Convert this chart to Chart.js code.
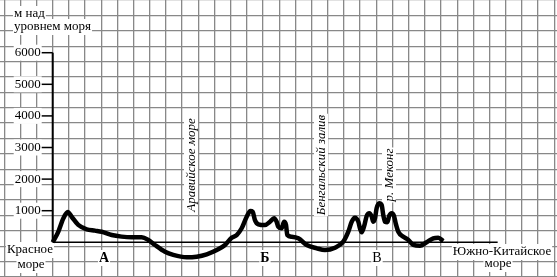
<!DOCTYPE html>
<html>
<head>
<meta charset="utf-8">
<script src="https://cdn.jsdelivr.net/npm/chart.js@4.4.0/dist/chart.umd.min.js"></script>
<style>
  html, body { margin: 0; padding: 0; background: #fff; }
  #profile { display: block; }
</style>
</head>
<body>
<canvas id="profile" width="557" height="277"></canvas>
<script>
// profile along the section, x in grid cells from the height axis, height in metres
var distance = [0, 0.35, 0.66, 0.93, 1.17, 1.58, 2.1, 2.61, 3.03, 3.65, 4.26, 4.88, 5.5, 5.91, 6.32,
  6.94, 7.45, 8.28, 8.9, 9.52, 10.14, 10.65, 11.06, 11.37, 11.68, 11.99, 12.22, 12.36, 12.5, 12.71,
  13.12, 13.43, 13.68, 13.84, 13.94, 14.15, 14.3, 14.42, 14.5, 14.77, 15.18, 15.7, 16.32, 16.83,
  17.45, 17.96, 18.27, 18.48, 18.68, 18.89, 18.99, 19.1, 19.24, 19.41, 19.57, 19.72, 19.81, 19.92,
  20.02, 20.18, 20.33, 20.43, 20.54, 20.68, 20.8, 20.95, 21.09, 21.2, 21.36, 21.67, 21.98, 22.29,
  22.7, 23.11, 23.52, 23.83, 24.14];
var height = [0, 340, 760, 960, 810, 550, 410, 370, 335, 230, 180, 160, 160, 75, -85,
  -300, -400, -475, -455, -380, -245, -85, 145, 230, 445, 810, 990, 965, 705, 570,
  545, 650, 760, 650, 495, 445, 650, 545, 230, 175, 125, -85, -190, -245,
  -170, 20, 335, 650, 780, 650, 445, 315, 495, 840, 920, 810, 650, 760,
  1075, 1235, 1180, 865, 650, 635, 840, 920, 840, 600, 335, 175, 75, -85,
  -110, 0, 125, 145, 40];

var seaLevelEnd = 27.5;
var axisTop = 6000;
var yTicks = [1000, 2000, 3000, 4000, 5000, 6000];
var axisTitle = ["м над", "уровнем моря"];
var startLabel = ["Красное", "море"];
var endLabel = ["Южно-Китайское", "море"];
var pointLetters = ["А", "Б", "В"];
var waterNames = ["Аравийское море", "Бенгальский залив", "р. Меконг"];

var profilePoints = [];
for (var i = 0; i < distance.length; i++) {
  profilePoints.push({x: distance[i], y: height[i]});
}

function boxText(ctx, text, x, y, align) {
  var w = ctx.measureText(text).width;
  var left = align == "center" ? x - w / 2 : (align == "right" ? x - w : x);
  ctx.fillStyle = "#fff";
  ctx.fillRect(left - 1, y - 8, w + 2, 16);
  ctx.fillStyle = "#000";
  ctx.textAlign = align;
  ctx.textBaseline = "middle";
  ctx.fillText(text, x, y);
}

function rotText(ctx, text, cx, cy) {
  ctx.save();
  ctx.translate(cx, cy);
  ctx.rotate(-Math.PI / 2);
  var w = ctx.measureText(text).width;
  ctx.fillStyle = "#fff";
  ctx.fillRect(-w / 2 - 1, -7, w + 2, 14);
  ctx.fillStyle = "#000";
  ctx.textAlign = "center";
  ctx.textBaseline = "middle";
  ctx.fillText(text, 0, 1);
  ctx.restore();
}

var labelsPlugin = {
  id: "labels",
  beforeDatasetsDraw: function(chart) {
    var ctx = chart.ctx;
    var xs = chart.scales.x, ys = chart.scales.y;
    var ax = xs.getPixelForValue(0);
    ctx.save();
    ctx.font = "13px 'Liberation Serif'";
    // tick labels and tick marks
    yTicks.forEach(function(v) {
      var py = ys.getPixelForValue(v);
      boxText(ctx, String(v), ax - 12, py, "right");
      ctx.strokeStyle = "#000";
      ctx.lineWidth = 1.5;
      ctx.beginPath();
      ctx.moveTo(ax - 11, py);
      ctx.lineTo(ax, py);
      ctx.stroke();
    });
    ctx.textBaseline = "alphabetic";
    boxText(ctx, axisTitle[0], 14, 14, "left");
    boxText(ctx, axisTitle[1], 14, 27, "left");
    boxText(ctx, startLabel[0], 30, 250, "center");
    boxText(ctx, startLabel[1], 31, 265, "center");
    boxText(ctx, endLabel[0], 502, 252, "center");
    boxText(ctx, endLabel[1], 498, 264, "center");

    ctx.font = "bold 14px 'Liberation Serif'";
    boxText(ctx, pointLetters[0], 104, 258, "center");
    boxText(ctx, pointLetters[1], 265, 258, "center");
    ctx.font = "14px 'Liberation Serif'";
    boxText(ctx, pointLetters[2], 377, 258, "center");

    ctx.font = "italic 13px 'Liberation Serif'";
    rotText(ctx, waterNames[0], 191, 165);
    rotText(ctx, waterNames[1], 321, 165);
    rotText(ctx, waterNames[2], 389, 175);
    ctx.restore();
  }
};

var ctx = document.getElementById("profile");

new Chart(ctx, {
  type: "line",
  data: {
    datasets: [
      {
        data: profilePoints,
        borderColor: "#000",
        borderWidth: 4.5,
        pointRadius: 0,
        cubicInterpolationMode: "monotone",
        fill: false
      },
      {
        data: [{x: 0, y: 0}, {x: seaLevelEnd, y: 0}],
        borderColor: "#000",
        borderWidth: 1.5,
        pointRadius: 0
      },
      {
        data: [{x: 0, y: 0}, {x: 0, y: axisTop}],
        borderColor: "#000",
        borderWidth: 2,
        pointRadius: 0
      }
    ]
  },
  options: {
    responsive: false,
    animation: false,
    devicePixelRatio: 1,
    layout: {padding: 0},
    plugins: {legend: {display: false}, tooltip: {enabled: false}},
    scales: {
      x: {
        type: "linear",
        min: -3.257,
        max: 31.168,
        border: {display: false},
        grid: {color: "#888", lineWidth: 1.3, drawTicks: false},
        ticks: {display: false, stepSize: 1, includeBounds: false}
      },
      y: {
        type: "linear",
        min: -1098,
        max: 7668,
        border: {display: false},
        grid: {color: "#888", lineWidth: 1.3, drawTicks: false},
        ticks: {display: false, stepSize: 500, includeBounds: false}
      }
    }
  },
  plugins: [labelsPlugin]
});
</script>
</body>
</html>
